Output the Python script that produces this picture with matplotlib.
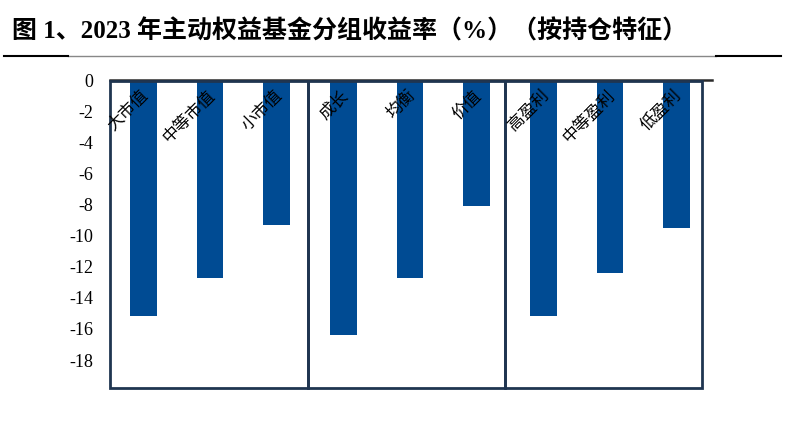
import matplotlib
matplotlib.use("Agg")
import matplotlib.pyplot as plt
from matplotlib.patches import Rectangle
from matplotlib.lines import Line2D

cats = ["大市值", "中等市值", "小市值", "成长", "均衡", "价值", "高盈利", "中等盈利", "低盈利"]
vals = [-15.2, -12.7, -9.3, -16.4, -12.75, -8.1, -15.2, -12.4, -9.5]
yticks = list(range(0, -20, -2))
groups = [(-0.5, 2.47), (2.47, 5.42), (5.42, 8.38)]

plt.rcParams['font.family'] = ['Liberation Serif', 'Noto Sans CJK SC']

fig = plt.figure(figsize=(8, 4.44), dpi=100)
ax = fig.add_axes([110/800, 1-388/444, 600/800, 308/444])

x = list(range(len(cats)))
ax.bar(x, vals, width=0.4, color='#004b93', zorder=2)

ax.set_xlim(-0.5, len(cats) - 0.5)
ax.set_ylim(-19.8, 0)
ax.set_yticks(yticks)
ax.set_yticklabels([str(t) for t in yticks], fontsize=13)
ax.tick_params(axis='y', length=0, pad=12)
ax.set_xticks([])

for s in ['left', 'right', 'bottom']:
    ax.spines[s].set_visible(False)
ax.spines['top'].set_color('#2b2b2b')
ax.spines['top'].set_linewidth(1.8)
ax.spines['top'].set_bounds(-0.5, 8.53)

for a, b in groups:
    ax.add_patch(Rectangle((a, -19.8), b - a, 19.75, fill=False,
                           edgecolor='#1f3550', lw=2, zorder=3, clip_on=False))

for i, c in enumerate(cats):
    ax.text(i + 0.13, -0.45, c, rotation=45, ha='right', va='top',
            fontsize=12, family=['Noto Sans CJK SC'], zorder=4)

fig.text(12/800, 1-31/444, "图 1、2023 年主动权益基金分组收益率（%）（按持仓特征）",
         fontsize=18, fontweight='bold', va='center', ha='left')

fig.add_artist(Line2D([68/800, 716/800], [1-55.7/444]*2, color='#888888', lw=1))
fig.add_artist(Line2D([4/800, 68/800], [1-55.7/444]*2, color='black', lw=1.5))
fig.add_artist(Line2D([716/800, 781/800], [1-55.7/444]*2, color='black', lw=1.5))

fig.savefig("out.png", dpi=100)
